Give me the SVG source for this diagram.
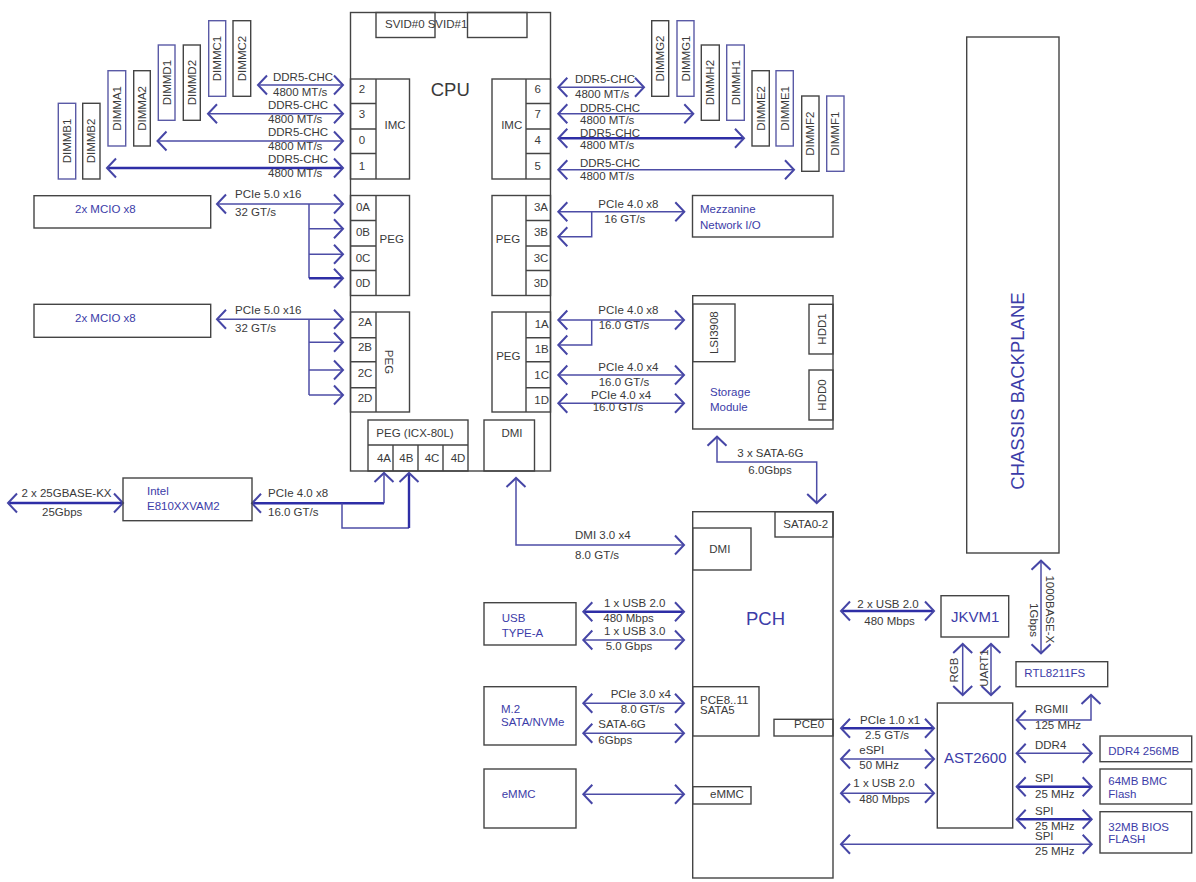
<svg xmlns="http://www.w3.org/2000/svg" width="1196" height="882" viewBox="0 0 1196 882">
<style>
text{font-family:"Liberation Sans",Arial,sans-serif;font-size:11.5px;fill:#3a3a3a}
.b{fill:#3c3ca8}
.c{text-anchor:middle}
.big{font-size:18.5px}
.mid{font-size:15px}
rect,.box{fill:none;stroke:#444;stroke-width:1.4}
.wb{fill:#fff;stroke:#444;stroke-width:1.4}
.bb{fill:#fff;stroke:#5a5aa6;stroke-width:1.4}
.n{fill:none;stroke:#4d4da6;stroke-width:1.5}
.a{fill:none;stroke:#4d4da6;stroke-width:1.5;marker-end:url(#h);marker-start:url(#h)}
.e{fill:none;stroke:#4d4da6;stroke-width:1.5;marker-end:url(#h)}
.t{fill:none;stroke:#2e2ea6;stroke-width:2.4;marker-end:url(#h);marker-start:url(#h)}
.te{fill:none;stroke:#2e2ea6;stroke-width:2.4;marker-end:url(#h)}
.ts{fill:none;stroke:#2e2ea6;stroke-width:2.4;marker-start:url(#h)}
</style>
<defs>
<marker id="h" markerUnits="userSpaceOnUse" markerWidth="24" markerHeight="24" refX="12" refY="12" orient="auto-start-reverse" viewBox="0 0 24 24"><path d="M3,2.5 L12,12 L3,21.5" fill="none" stroke="#4646a6" stroke-width="2"/></marker>
</defs>
<g id="connectors">
<path class="a" d="M258,85H343"/><path class="a" d="M208,113.7H343"/><path class="a" d="M157.5,141H343"/><path class="t" d="M107,168H343"/>
<path class="a" d="M217,204H343"/><path class="n" d="M309,204V278.3"/><path class="e" d="M309,228.7H343"/><path class="e" d="M309,254.3H343"/><path class="te" d="M309,278.3H343"/>
<path class="a" d="M217,319.3H343"/><path class="n" d="M309,319.3V395"/><path class="e" d="M309,342.3H343"/><path class="e" d="M309,370H343"/><path class="e" d="M309,395H343"/>
<path class="ts" d="M252,503.3H384"/><path class="e" d="M384,503.3V473"/><path class="n" d="M342,503.3V528H409"/><path class="te" d="M409,528V473"/>
<path class="t" d="M8,503H123"/>
<path class="a" d="M516,478V545H684"/>
<path class="a" d="M558.3,87.3H644"/><path class="a" d="M558.3,113.7H693.3"/><path class="t" d="M558.3,138.3H744"/><path class="a" d="M558.3,169.7H794"/>
<path class="a" d="M558.3,211.7H684.3"/><path class="e" d="M591.7,211.7V236.7H558.3"/>
<path class="a" d="M558.3,320H684"/><path class="e" d="M591.7,320V345H558.3"/><path class="a" d="M558.3,375H684"/><path class="a" d="M558.3,403.3H684"/>
<path class="a" d="M717,436.7V462H816.7V503"/>
<path class="t" d="M583.3,611.7H684"/><path class="a" d="M583.3,640H684"/><path class="a" d="M583.3,703.3H684"/><path class="a" d="M583.3,733.3H684"/><path class="a" d="M583.3,794.3H684"/>
<path class="t" d="M841,611H934"/>
<path class="a" d="M962.7,644V695"/><path class="a" d="M991,644V695"/><path class="a" d="M1041,560.7V653.3"/>
<path class="t" d="M841,728.3H934"/><path class="a" d="M841,759H934"/><path class="a" d="M841,793.3H934"/>
<path class="a" d="M1016.7,720H1091V695"/><path class="a" d="M1016.7,753.3H1091.7"/><path class="t" d="M1016.7,786.7H1091.7"/><path class="t" d="M1016.7,819.3H1091.7"/><path class="a" d="M841,844.3H1091.7"/>
</g>
<g id="labels">
<text x="273" y="81">DDR5-CHC</text><text x="273" y="95.7">4800 MT/s</text>
<text x="268" y="108.5">DDR5-CHC</text><text x="268" y="123">4800 MT/s</text>
<text x="268" y="136">DDR5-CHC</text><text x="268" y="149.5">4800 MT/s</text>
<text x="268" y="162.5">DDR5-CHC</text><text x="268" y="176.5">4800 MT/s</text>
<text x="235" y="198">PCIe 5.0 x16</text><text x="235" y="215.5">32 GT/s</text>
<text x="235" y="314">PCIe 5.0 x16</text><text x="235" y="332">32 GT/s</text>
<text x="268" y="497.3">PCIe 4.0 x8</text><text x="268" y="515.7">16.0 GT/s</text>
<text x="21.4" y="497.3">2 x 25GBASE-KX</text><text x="42" y="515.7">25Gbps</text>
<text x="575" y="83.3">DDR5-CHC</text><text x="575" y="98.3">4800 MT/s</text>
<text x="580" y="111.7">DDR5-CHC</text><text x="580" y="124">4800 MT/s</text>
<text x="580" y="136.7">DDR5-CHC</text><text x="580" y="149.3">4800 MT/s</text>
<text x="580" y="167.3">DDR5-CHC</text><text x="580" y="180">4800 MT/s</text>
<text x="598.3" y="207.7">PCIe 4.0 x8</text><text x="604.3" y="222.7">16 GT/s</text>
<text x="598.3" y="314.3">PCIe 4.0 x8</text><text x="598.7" y="329.3">16.0 GT/s</text>
<text x="598.3" y="370.7">PCIe 4.0 x4</text><text x="598.7" y="385.7">16.0 GT/s</text>
<text x="591" y="399">PCIe 4.0 x4</text><text x="592.7" y="410.7">16.0 GT/s</text>
<text x="737.3" y="456.7">3 x SATA-6G</text><text x="748.3" y="474.3">6.0Gbps</text>
<text x="575" y="539">DMI 3.0 x4</text><text x="575" y="559">8.0 GT/s</text>
<text x="604" y="606.7">1 x USB 2.0</text><text x="603.3" y="621.7">480 Mbps</text><text x="604" y="635">1 x USB 3.0</text><text x="605.7" y="650">5.0 Gbps</text>
<text x="610.7" y="697.7">PCIe 3.0 x4</text><text x="620.7" y="713.3">8.0 GT/s</text><text x="598.3" y="728.3">SATA-6G</text><text x="598.3" y="744">6Gbps</text>
<text x="857.3" y="607.7">2 x USB 2.0</text><text x="864.3" y="625">480 Mbps</text>
<text x="860" y="724.3">PCIe 1.0 x1</text><text x="865" y="739.3">2.5 GT/s</text>
<text x="859.3" y="754.3">eSPI</text><text x="859.3" y="769.3">50 MHz</text>
<text x="853.3" y="787.3">1 x USB 2.0</text><text x="859.3" y="802.7">480 Mbps</text>
<text x="1035" y="713.3">RGMII</text><text x="1035" y="729">125 MHz</text>
<text x="1035" y="749.3">DDR4</text>
<text x="1035" y="781.7">SPI</text><text x="1035" y="797.7">25 MHz</text>
<text x="1035" y="815">SPI</text><text x="1035" y="830">25 MHz</text>
<text x="1035" y="840">SPI</text><text x="1035" y="855">25 MHz</text>
<text class="c" transform="translate(958.3,670) rotate(-90)">RGB</text>
<text class="c" transform="translate(988.3,668) rotate(-90)">UART1</text>
<text class="c" transform="translate(1045.7,609.3) rotate(90)">1000BASE-X</text>
<text class="c" transform="translate(1030,620) rotate(90)">1Gbps</text>
</g>
<g id="cpu">
<rect x="350.5" y="12.5" width="200" height="458.5"/>
<rect x="376" y="12.5" width="59" height="25"/><rect x="467.5" y="12.5" width="59.5" height="25"/>
<text x="385" y="27.7">SVID#0</text><text x="427.7" y="27.7">SVID#1</text>
<text class="big" x="430.7" y="96">CPU</text>
</g>
<g id="imc-left">
<rect x="350.5" y="79" width="59" height="100"/><path class="box" d="M376,79V179M350.5,103.5H376M350.5,129H376M350.5,153.5H376"/>
<text class="c" x="362" y="93">2</text><text class="c" x="362" y="118">3</text><text class="c" x="362" y="144">0</text><text class="c" x="362" y="170">1</text><text class="c" x="395" y="129">IMC</text>
</g>
<g id="peg-0">
<rect x="350.5" y="195.5" width="59" height="100"/><path class="box" d="M376,195.5V295.5M350.5,220.5H376M350.5,246H376M350.5,270.5H376"/>
<text class="c" x="363" y="210.7">0A</text><text class="c" x="363" y="236">0B</text><text class="c" x="363" y="261.7">0C</text><text class="c" x="363" y="286.7">0D</text><text class="c" x="391.7" y="243.3">PEG</text>
</g>
<g id="peg-2">
<rect x="350.5" y="312" width="59" height="100"/><path class="box" d="M376,312V412M350.5,337.7H376M350.5,361.7H376M350.5,387.7H376"/>
<text class="c" x="365" y="326">2A</text><text class="c" x="365" y="351">2B</text><text class="c" x="365" y="377">2C</text><text class="c" x="365" y="401.7">2D</text>
<text class="c" transform="translate(385,362) rotate(90)">PEG</text>
</g>
<g id="imc-right">
<rect x="492" y="79" width="58.5" height="100"/><path class="box" d="M526,79V179M526,103.5H550.5M526,129H550.5M526,153.5H550.5"/>
<text class="c" x="537.7" y="93">6</text><text class="c" x="537.7" y="118">7</text><text class="c" x="537.7" y="144">4</text><text class="c" x="537.7" y="170">5</text><text class="c" x="511.7" y="129">IMC</text>
</g>
<g id="peg-3">
<rect x="492" y="195.5" width="58.5" height="100"/><path class="box" d="M526,195.5V295.5M526,220.5H550.5M526,246H550.5M526,270.5H550.5"/>
<text class="c" x="541" y="210.7">3A</text><text class="c" x="541" y="236">3B</text><text class="c" x="541" y="261.7">3C</text><text class="c" x="541" y="286.7">3D</text><text class="c" x="508" y="243.3">PEG</text>
</g>
<g id="peg-1">
<rect x="492" y="312" width="58.5" height="100"/><path class="box" d="M526,312V412M526,337.7H550.5M526,361.7H550.5M526,387.7H550.5"/>
<text class="c" x="541.7" y="327.7">1A</text><text class="c" x="541.7" y="352.7">1B</text><text class="c" x="541.7" y="379">1C</text><text class="c" x="541.7" y="404">1D</text><text class="c" x="508.3" y="360">PEG</text>
</g>
<g id="peg-icx">
<rect x="368" y="420" width="100" height="51"/><path class="box" d="M368,445H468M393,445V471M418,445V471M443,445V471"/>
<text class="c" x="415" y="437.3">PEG (ICX-80L)</text>
<text class="c" x="384" y="461.7">4A</text><text class="c" x="406.4" y="461.7">4B</text><text class="c" x="432" y="461.7">4C</text><text class="c" x="458" y="461.7">4D</text>
</g>
<g id="cpu-dmi"><rect x="484" y="420" width="50.5" height="51"/><text class="c" x="512" y="436.7">DMI</text></g>
<g id="dimm-b1"><rect class="bb" x="58.3" y="103.3" width="17.4" height="75.7"/><text class="c" transform="translate(71,141) rotate(-90)">DIMMB1</text></g>
<g id="dimm-b2"><rect class="wb" x="82.7" y="103.3" width="17.3" height="75.7"/><text class="c" transform="translate(95.4,141) rotate(-90)">DIMMB2</text></g>
<g id="dimm-a1"><rect class="bb" x="108" y="70.7" width="17.7" height="75.3"/><text class="c" transform="translate(121,108.4) rotate(-90)">DIMMA1</text></g>
<g id="dimm-a2"><rect class="wb" x="133.7" y="70.7" width="16.6" height="75.3"/><text class="c" transform="translate(146,108.4) rotate(-90)">DIMMA2</text></g>
<g id="dimm-d1"><rect class="bb" x="158.3" y="45" width="16.7" height="75.3"/><text class="c" transform="translate(170.7,82.6) rotate(-90)">DIMMD1</text></g>
<g id="dimm-d2"><rect class="wb" x="183.3" y="45" width="17" height="75.3"/><text class="c" transform="translate(195.8,82.6) rotate(-90)">DIMMD2</text></g>
<g id="dimm-c1"><rect class="bb" x="208.7" y="20.7" width="17" height="75.6"/><text class="c" transform="translate(221.2,58.5) rotate(-90)">DIMMC1</text></g>
<g id="dimm-c2"><rect class="wb" x="233" y="20.7" width="17.7" height="75.6"/><text class="c" transform="translate(246,58.5) rotate(-90)">DIMMC2</text></g>
<g id="dimm-g2"><rect class="wb" x="651.7" y="20.7" width="17" height="75.6"/><text class="c" transform="translate(664.2,58.5) rotate(-90)">DIMMG2</text></g>
<g id="dimm-g1"><rect class="bb" x="677" y="20.7" width="17" height="75.6"/><text class="c" transform="translate(689.5,58.5) rotate(-90)">DIMMG1</text></g>
<g id="dimm-h2"><rect class="wb" x="701.3" y="45" width="18" height="75.3"/><text class="c" transform="translate(714.3,82.6) rotate(-90)">DIMMH2</text></g>
<g id="dimm-h1"><rect class="bb" x="726.7" y="45" width="17.6" height="75.3"/><text class="c" transform="translate(739.5,82.6) rotate(-90)">DIMMH1</text></g>
<g id="dimm-e2"><rect class="wb" x="752" y="70.7" width="17.3" height="75.3"/><text class="c" transform="translate(764.7,108.4) rotate(-90)">DIMME2</text></g>
<g id="dimm-e1"><rect class="bb" x="776" y="70.7" width="17.3" height="75.3"/><text class="c" transform="translate(788.7,108.4) rotate(-90)">DIMME1</text></g>
<g id="dimm-f2"><rect class="wb" x="801.7" y="96" width="17.3" height="75.3"/><text class="c" transform="translate(814.4,133.7) rotate(-90)">DIMMF2</text></g>
<g id="dimm-f1"><rect class="bb" x="826.7" y="96" width="17.3" height="75.3"/><text class="c" transform="translate(839.4,133.7) rotate(-90)">DIMMF1</text></g>
<g id="mcio-0"><rect x="34" y="195.7" width="176.7" height="32.3"/><text class="b" x="75" y="213">2x MCIO x8</text></g>
<g id="mcio-2"><rect x="34" y="304.3" width="176.7" height="33"/><text class="b" x="75" y="322">2x MCIO x8</text></g>
<g id="e810"><rect x="123" y="478" width="129" height="42.7"/><text class="b" x="147" y="495">Intel</text><text class="b" x="147" y="510">E810XXVAM2</text></g>
<g id="mezzanine"><rect x="692.5" y="195.5" width="140.5" height="41.5"/><text class="b" x="700" y="213.3">Mezzanine</text><text class="b" x="700" y="228.7">Network I/O</text></g>
<g id="storage">
<rect x="692.7" y="295.7" width="140.3" height="133.3"/><rect x="692.7" y="304" width="42.3" height="57.7"/><rect x="809" y="304.3" width="24" height="49.7"/><rect x="809" y="370" width="24" height="50"/>
<text class="c" transform="translate(718,332.7) rotate(-90)">LSI3908</text><text class="c" transform="translate(825.5,329) rotate(-90)">HDD1</text><text class="c" transform="translate(825.5,395) rotate(-90)">HDD0</text>
<text class="b" x="710" y="396">Storage</text><text class="b" x="710" y="410.7">Module</text>
</g>
<g id="pch">
<rect x="692.7" y="511.7" width="140.3" height="366.3"/>
<rect x="775" y="511.7" width="58" height="25.3"/><text x="783.3" y="527.7">SATA0-2</text>
<rect x="692.7" y="528" width="58.3" height="42"/><text x="709.3" y="553.3">DMI</text>
<text class="b big" x="746" y="625">PCH</text>
<rect x="692.7" y="686.7" width="66.3" height="49.3"/><text x="700" y="704">PCE8..11</text><text x="700" y="714">SATA5</text>
<rect x="774" y="719.3" width="59" height="16.7"/><text x="794" y="727.7">PCE0</text>
<rect x="692.7" y="786.7" width="58.3" height="17.3"/><text x="710" y="797.7">eMMC</text>
</g>
<g id="usb"><rect x="484" y="602.7" width="92" height="42.3"/><text class="b" x="501.7" y="622.3">USB</text><text class="b" x="501.7" y="636.7">TYPE-A</text></g>
<g id="m2"><rect x="484" y="686.7" width="92" height="58.3"/><text class="b" x="501" y="713.3">M.2</text><text class="b" x="501" y="725.7">SATA/NVMe</text></g>
<g id="emmc"><rect x="484" y="769" width="92" height="59"/><text class="b" x="501.7" y="798.3">eMMC</text></g>
<g id="jkvm"><rect x="941" y="595.7" width="67.7" height="41.3"/><text class="b mid" x="951" y="621.7">JKVM1</text></g>
<g id="rtl"><rect x="1016" y="661.7" width="91.7" height="25"/><text class="b" x="1024.3" y="677.3">RTL8211FS</text></g>
<g id="ast"><rect x="937.3" y="703" width="75.4" height="125"/><text class="b mid" x="944" y="763.3">AST2600</text></g>
<g id="ddr4"><rect x="1100" y="736" width="91.7" height="25.7"/><text class="b" x="1108.3" y="755">DDR4 256MB</text></g>
<g id="bmc-flash"><rect x="1100" y="769" width="91.7" height="35"/><text class="b" x="1108.3" y="785">64MB BMC</text><text class="b" x="1108.3" y="797.7">Flash</text></g>
<g id="bios-flash"><rect x="1100" y="811.7" width="91.7" height="41.3"/><text class="b" x="1108.3" y="830.7">32MB BIOS</text><text class="b" x="1108.3" y="843.3">FLASH</text></g>
<g id="backplane"><rect x="966.7" y="37" width="92.3" height="516"/><text class="b big c" transform="translate(1024,391) rotate(-90)">CHASSIS BACKPLANE</text></g>
</svg>
